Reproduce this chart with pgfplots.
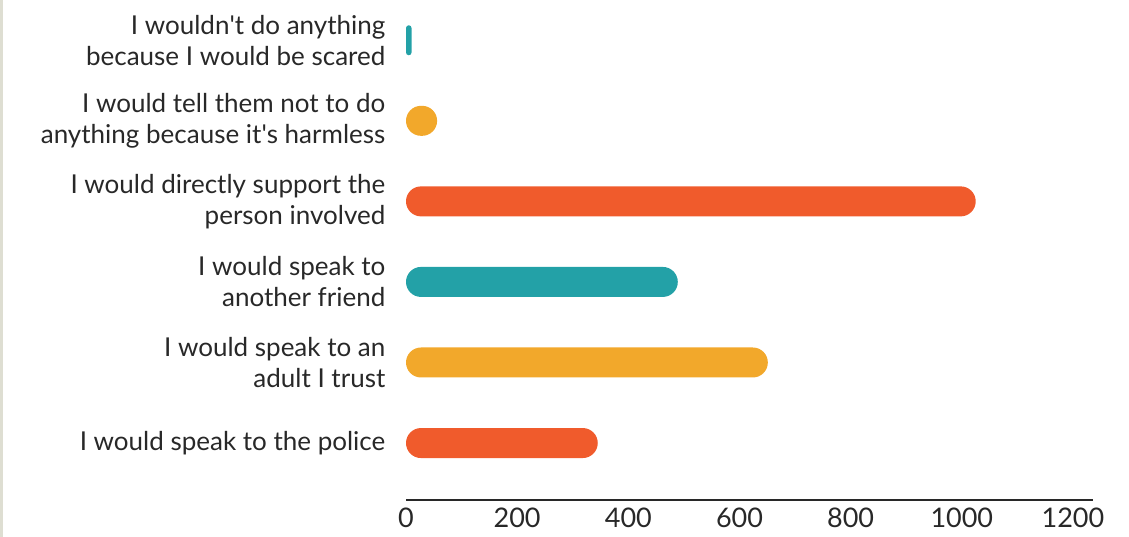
\documentclass[border=0pt]{standalone}
\usepackage{pgfplots}
\pgfplotsset{compat=1.18}
\usepackage{fontspec}
\setmainfont{Lato}
\definecolor{cteal}{RGB}{35,161,167}
\definecolor{cyel}{RGB}{242,168,43}
\definecolor{cred}{RGB}{240,91,44}
\definecolor{ctext}{RGB}{40,40,40}
\definecolor{cedge}{RGB}{222,222,210}
\begin{document}
\begin{tikzpicture}[x=1pt,y=1pt]
\useasboundingbox (0,0) rectangle (1129,537);
\fill[cedge] (0,0) rectangle (3,537);
\begin{axis}[
  at={(406pt,37pt)}, anchor=south west,
  scale only axis, width=687pt, height=500pt,
  xmin=0, xmax=1236, ymin=-0.707, ymax=5.5,
  xbar, bar width=30pt, bar shift=0pt,
  axis x line=bottom, x axis line style={-, line width=2.5pt, color=ctext},
  axis y line=left, y axis line style={draw=none},
  xtick={0,200,...,1200}, xtick style={draw=none},
  ytick={0,...,5}, ytick style={draw=none},
  yticklabels={{I would speak to the police},{I would speak to an\\adult I trust},{I would speak to\\another friend},{I would directly support the\\person involved},{I would tell them not to do\\anything because it\textquotesingle s harmless},{I wouldn\textquotesingle t do anything\\because I would be scared}},
  yticklabel style={align=right, font=\fontsize{26}{31}\selectfont, text=ctext, xshift=-15pt},
  xticklabel style={font=\fontsize{27}{30}\selectfont, text=ctext, yshift=-2pt},
  /pgf/number format/assume math mode=true,
  /pgf/number format/1000 sep={},
  clip=false,
]
\addplot[fill=cred, draw=none, rounded corners=15pt] coordinates {(345,0) (1025,3)};
\addplot[fill=cyel, draw=none, rounded corners=15pt] coordinates {(651,1) (56,4)};
\addplot[fill=cteal, draw=none, rounded corners=15pt] coordinates {(489,2)};
\addplot[fill=cteal, draw=none, rounded corners=2.8pt] coordinates {(10,5)};
\end{axis}
\end{tikzpicture}
\end{document}
